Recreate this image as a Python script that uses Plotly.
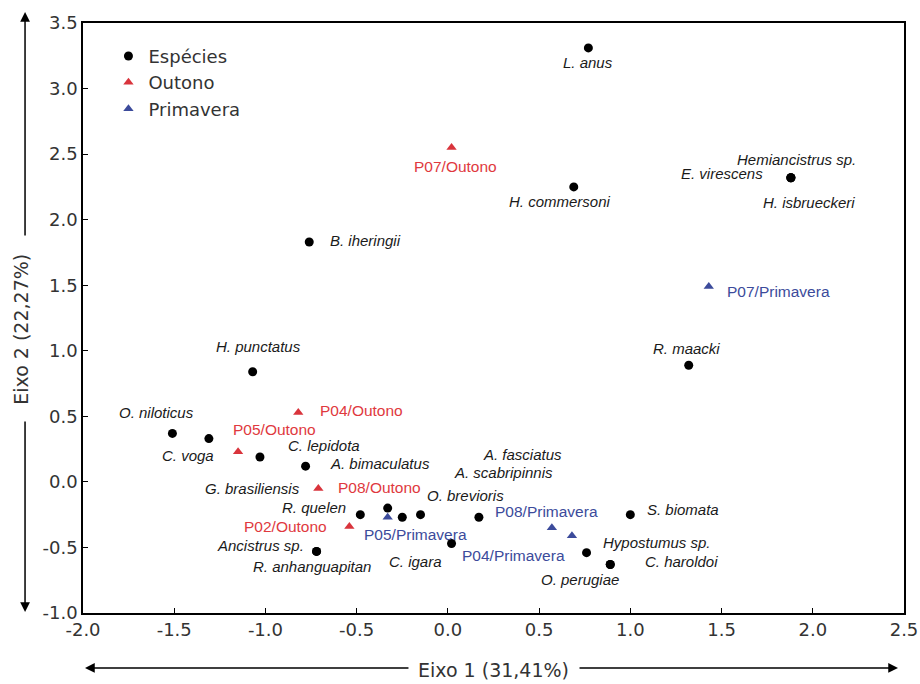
import plotly.graph_objects as go

# ---------------- data ----------------
species = ['L. anus', 'H. commersoni', 'Hemiancistrus sp.', 'E. virescens', 'H. isbrueckeri',
           'B. iheringii', 'R. maacki', 'H. punctatus', 'O. niloticus', 'C. voga',
           'C. lepidota', 'A. bimaculatus', 'R. quelen', 'G. brasiliensis', 'A. fasciatus',
           'A. scabripinnis', 'O. brevioris', 'C. igara', 'Ancistrus sp.', 'R. anhanguapitan',
           'S. biomata', 'Hypostumus sp.', 'C. haroldoi', 'O. perugiae']
sp_x = [0.77, 0.69, 1.88, 1.88, 1.88, -0.76, 1.32, -1.07, -1.51, -1.31,
        -1.03, -0.78, -0.48, -0.33, -0.25, -0.15, 0.17, 0.02, -0.72, -0.72,
        1.00, 0.76, 0.89, 0.89]
sp_y = [3.31, 2.25, 2.32, 2.32, 2.32, 1.83, 0.89, 0.84, 0.37, 0.33,
        0.19, 0.12, -0.25, -0.20, -0.27, -0.25, -0.27, -0.47, -0.53, -0.53,
        -0.25, -0.54, -0.63, -0.63]

outono = ['P07/Outono', 'P04/Outono', 'P05/Outono', 'P08/Outono', 'P02/Outono']
out_x = [0.02, -0.82, -1.15, -0.71, -0.54]
out_y = [2.55, 0.53, 0.23, -0.05, -0.34]

primavera = ['P07/Primavera', 'P05/Primavera', 'P08/Primavera', 'P04/Primavera']
pri_x = [1.43, -0.33, 0.57, 0.68]
pri_y = [1.49, -0.27, -0.35, -0.41]

x_ticks = [-2.0, -1.5, -1.0, -0.5, 0.0, 0.5, 1.0, 1.5, 2.0, 2.5]
y_ticks = [-1.0, -0.5, 0.0, 0.5, 1.0, 1.5, 2.0, 2.5, 3.0, 3.5]

# label placement (pixel offsets from the point, anchor)
sp_lab = [(0, -15, 'center'), (-14, -15, 'center'), (6, 18, 'center'), (-26, 4, 'right'),
          (18, -25, 'center'), (19, 1, 'left'), (-2, 17, 'center'), (6, 25, 'center'),
          (-16, 21, 'center'), (-21, -17, 'center'), (64, 11, 'center'), (22, 3, 'left'),
          (-12, 7, 'right'), (-86, 20, 'right'), (120, 63, 'center'), (83, 42, 'center'),
          (-13, 22, 'center'), (-36, -18, 'center'), (-11, 6, 'right'), (-5, -15, 'center'),
          (15, 5, 'left'), (70, 10, 'center'), (71, 3, 'center'), (-30, -15, 'center')]
out_lab = [(4, -19, 'center'), (20, 2, 'left'), (36, 22, 'center'), (18, 1, 'left'), (-20, 0, 'right')]
pri_lab = [(16, -5, 'left'), (-26, -17, 'left'), (-59, 16, 'left'), (-58, -20, 'center')]

RED = '#d9343c'
BLUE = '#3c4b9b'
TICK_FONT = dict(family='DejaVu Sans', size=18, color='#333333')

fig = go.Figure()
fig.add_trace(go.Scatter(x=sp_x, y=sp_y, mode='markers', name='Espécies',
                         marker=dict(symbol='circle', size=9, color='black')))
fig.add_trace(go.Scatter(x=out_x, y=out_y, mode='markers', name='Outono',
                         marker=dict(symbol='triangle-up', size=9, color=RED)))
fig.add_trace(go.Scatter(x=pri_x, y=pri_y, mode='markers', name='Primavera',
                         marker=dict(symbol='triangle-up', size=9, color=BLUE)))

ann = []
def add_labels(names, xs, ys, labs, color, italic, size):
    for n, x, y, (dx, dy, anc) in zip(names, xs, ys, labs):
        ann.append(dict(x=x, y=y, xref='x', yref='y', text=(f'<i>{n}</i>' if italic else n),
                        showarrow=False, xshift=dx, yshift=dy, xanchor=anc, yanchor='middle',
                        font=dict(family='Liberation Sans', size=size, color=color)))

add_labels(species, sp_x, sp_y, sp_lab, '#1a1a1a', True, 15)
add_labels(outono, out_x, out_y, out_lab, '#e0393e', False, 15.5)
add_labels(primavera, pri_x, pri_y, pri_lab, BLUE, False, 15.5)

# axis titles with arrows
TITLE_FONT = dict(family='DejaVu Sans', size=19, color='#333333')
ann.append(dict(x=0.5, y=-0.0966, xref='paper', yref='paper', text='Eixo 1 (31,41%)',
                showarrow=False, xanchor='center', yanchor='middle', font=TITLE_FONT))
ann.append(dict(x=-0.0755, y=0.48, xref='paper', yref='paper', text='Eixo 2 (22,27%)',
                showarrow=False, textangle=-90, xanchor='center', yanchor='middle', font=TITLE_FONT))
arrow = dict(text='', showarrow=True, arrowhead=2, arrowsize=1.3, arrowwidth=1.5,
             arrowcolor='black', xref='paper', yref='paper', axref='pixel', ayref='pixel')
ann.append(dict(arrow, x=0.0024, y=-0.0932, ax=325, ay=0))
ann.append(dict(arrow, x=0.9927, y=-0.0932, ax=-320, ay=0))
ann.append(dict(arrow, x=-0.0706, y=1.0186, ax=0, ay=225))
ann.append(dict(arrow, x=-0.0706, y=0.0017, ax=0, ay=-192))

fig.update_layout(
    width=920, height=684,
    margin=dict(l=83, r=16, t=23, b=71),
    paper_bgcolor='white', plot_bgcolor='white',
    showlegend=True,
    legend=dict(x=0.031, y=0.975, xanchor='left', yanchor='top',
                font=dict(family='DejaVu Sans', size=18, color='#333333'),
                bgcolor='rgba(0,0,0,0)', tracegroupgap=0),
    annotations=ann,
)
fig.update_xaxes(range=[-2.0, 2.5], tickvals=x_ticks, ticktext=[f'{v:.1f}' for v in x_ticks],
                 showgrid=False, zeroline=False, showline=True, linecolor='black', linewidth=1.5,
                 mirror=True, ticks='inside', ticklen=5, tickcolor='black', tickfont=TICK_FONT,
                 automargin=False)
fig.update_yaxes(range=[-1.0, 3.5], tickvals=y_ticks, ticktext=[f'{v:.1f}' for v in y_ticks],
                 showgrid=False, zeroline=False, showline=True, linecolor='black', linewidth=1.5,
                 mirror=True, ticks='inside', ticklen=5, tickcolor='black', tickfont=TICK_FONT,
                 automargin=False)

fig.write_html('out.html')
